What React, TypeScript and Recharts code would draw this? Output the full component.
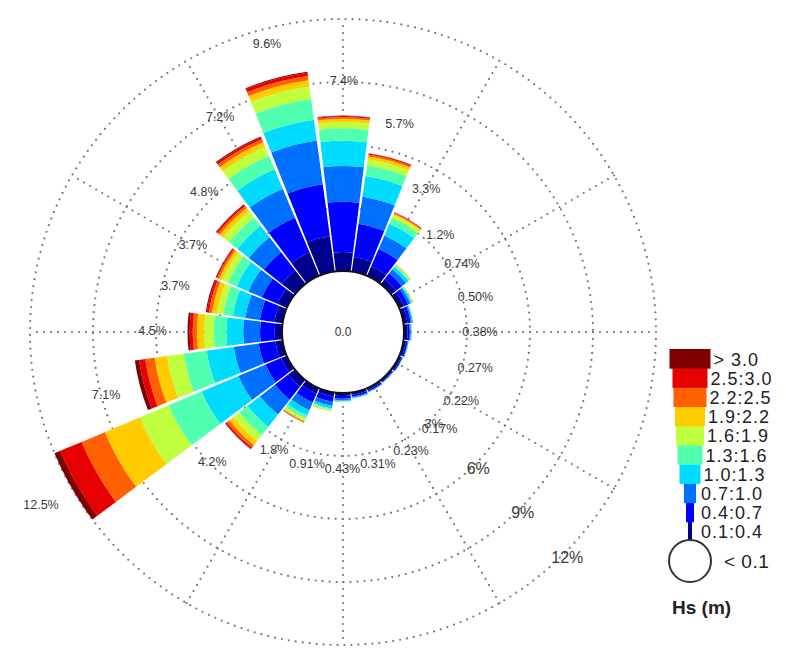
import { RadialBarChart, RadialBar, PolarAngleAxis, PolarRadiusAxis, PolarGrid, LabelList } from 'recharts';

// wave directions (deg from north, clockwise) and the % label printed at each one
const directions = [0, 15, 30, 45, 60, 75, 90, 105, 120, 135, 150, 165, 180, 195, 210, 225, 240, 255, 270, 285, 300, 315, 330, 345];
const dirLabels = ['7.4%', '5.7%', '3.3%', '1.2%', '0.74%', '0.50%', '0.38%', '0.27%', '0.22%', '0.17%', '0.23%', '0.31%', '0.43%', '0.91%', '1.8%', '4.2%', '12.5%', '7.1%', '4.5%', '3.7%', '3.7%', '4.8%', '7.2%', '9.6%'];

// frequency (%) per Hs class, one value per direction
const hs01_04 = [0.9, 0.7, 0.5, 0.3, 0.25, 0.2, 0.17, 0.13, 0.11, 0.09, 0.1, 0.12, 0.14, 0.2, 0.3, 0.4, 0.3, 0.35, 0.35, 0.4, 0.5, 0.8, 1.2, 1.7];
const hs04_07 = [2.4, 1.6, 0.9, 0.35, 0.22, 0.15, 0.11, 0.08, 0.06, 0.045, 0.07, 0.09, 0.13, 0.25, 0.45, 0.8, 0.8, 0.8, 0.7, 0.7, 0.8, 1.1, 1.8, 2.5];
const hs07_10 = [1.7, 1.3, 0.7, 0.25, 0.12, 0.07, 0.05, 0.03, 0.025, 0.02, 0.03, 0.05, 0.08, 0.2, 0.4, 0.9, 1.4, 1.2, 0.8, 0.7, 0.7, 0.9, 1.5, 2.1];
const hs10_13 = [1.2, 1.0, 0.6, 0.15, 0.07, 0.04, 0.025, 0.015, 0.01, 0.01, 0.015, 0.025, 0.04, 0.12, 0.28, 0.75, 1.9, 1.3, 0.8, 0.6, 0.6, 0.7, 1.0, 1.0];
const hs13_16 = [0.6, 0.5, 0.3, 0.08, 0.04, 0.02, 0.015, 0.01, 0.01, 0.005, 0.01, 0.015, 0.02, 0.07, 0.16, 0.5, 1.7, 1.1, 0.6, 0.45, 0.45, 0.5, 0.7, 1.0];
const hs16_19 = [0.3, 0.3, 0.15, 0.04, 0.02, 0.01, 0.01, 0.005, 0.005, 0, 0.005, 0.01, 0.01, 0.04, 0.1, 0.35, 1.5, 0.8, 0.45, 0.3, 0.3, 0.35, 0.45, 0.6];
const hs19_22 = [0.15, 0.15, 0.07, 0.02, 0.01, 0.01, 0.005, 0, 0, 0, 0, 0, 0.005, 0.02, 0.06, 0.25, 1.8, 0.6, 0.35, 0.25, 0.17, 0.22, 0.25, 0.3];
const hs22_25 = [0.08, 0.08, 0.04, 0.01, 0.01, 0, 0.005, 0, 0, 0, 0, 0, 0.005, 0.01, 0.03, 0.15, 1.2, 0.45, 0.2, 0.15, 0.1, 0.12, 0.15, 0.2];
const hs25_30 = [0.05, 0.05, 0.03, 0, 0, 0, 0, 0, 0, 0, 0, 0, 0, 0, 0.015, 0.07, 1.1, 0.3, 0.15, 0.1, 0.06, 0.08, 0.1, 0.15];
const hs30 = [0.02, 0.02, 0.01, 0, 0, 0, 0, 0, 0, 0, 0, 0, 0, 0, 0.005, 0.03, 0.8, 0.2, 0.1, 0.05, 0.02, 0.03, 0.05, 0.05];

const classNames = ['0.1:0.4', '0.4:0.7', '0.7:1.0', '1.0:1.3', '1.3:1.6', '1.6:1.9', '1.9:2.2', '2.2:2.5', '2.5:3.0', '> 3.0'];
const classColors = ['#00008f', '#0000ff', '#0070ff', '#00dcff', '#50ffb0', '#bfff40', '#ffcc00', '#ff6000', '#e60000', '#800000'];
const legendWidths = [4, 8, 12, 21, 25, 28, 30, 33, 35, 41];
const gridTicks = [3, 6, 9, 12];
const calmLabel = '0.0';

const classSeries = [hs01_04, hs04_07, hs07_10, hs10_13, hs13_16, hs16_19, hs19_22, hs22_25, hs25_30, hs30];

const data = directions.map((d, i) => {
  const row: any = { dir: d, label: dirLabels[i] };
  classSeries.forEach((s, k) => { row['c' + k] = s[i]; });
  return row;
});

const W = 778;
const H = 645;
const CX = 335;
const CY = 324;
const INNER = 61;
const OUTER = 313;

const DirLabel = (props: any) => {
  const { viewBox, value } = props;
  if (!viewBox || viewBox.outerRadius == null) return null;
  const { cx, cy, outerRadius, startAngle, endAngle } = viewBox;
  const mid = (startAngle + endAngle) / 2;
  const r = Math.max(outerRadius + 35, 137);
  const rad = (-mid * Math.PI) / 180;
  return (
    <text x={cx + r * Math.cos(rad)} y={cy + r * Math.sin(rad)} textAnchor="middle" dominantBaseline="central"
      fontSize={12.5} fill="#3a3a3a" fontFamily="Liberation Sans, Arial, sans-serif">{value}</text>
  );
};

const RadiusTick = (props: any) => {
  const { x, y, payload } = props;
  const small = payload.value < 6;
  return (
    <text x={x + 3} y={y + 4} textAnchor="middle" dominantBaseline="central" fontSize={small ? 13 : 16} fill="#3a3a3a"
      fontFamily="Liberation Sans, Arial, sans-serif">{payload.value + '%'}</text>
  );
};

export default function App() {
  const rowH = 19.2;
  const legTop = 341;
  const legX = 682;
  return (
    <div style={{ position: 'relative', width: W, height: H, fontFamily: 'Liberation Sans, Arial, sans-serif' }}>
      <RadialBarChart width={W} height={H} data={data} cx={CX} cy={CY} innerRadius={INNER} outerRadius={OUTER}
        startAngle={82.5} endAngle={-277.5} layout="centric" barCategoryGap="2%" margin={{ top: 0, right: 0, bottom: 0, left: 0 }}>
        <PolarGrid gridType="circle" polarAngles={[0, 30, 60, 90, 120, 150, 180, 210, 240, 270, 300, 330]}
          stroke="#777" strokeWidth={2.2} strokeDasharray="0 7" strokeLinecap="round" />
        <PolarAngleAxis dataKey="dir" type="category" tick={false} axisLine={false} tickLine={false} />
        <PolarRadiusAxis type="number" angle={-45} domain={[0, 12]} ticks={gridTicks} allowDataOverflow
          axisLine={false} tickLine={false} tick={<RadiusTick />} />
        {classSeries.map((_, k) => (
          <RadialBar key={k} dataKey={'c' + k} stackId="hs" fill={classColors[k]} isAnimationActive={false}>
            {k === classSeries.length - 1 ? <LabelList dataKey="label" content={<DirLabel />} /> : null}
          </RadialBar>
        ))}
      </RadialBarChart>
      <svg width={W} height={H} style={{ position: 'absolute', left: 0, top: 0, pointerEvents: 'none' }}>
        <circle cx={CX} cy={CY} r={INNER} fill="#fff" stroke="#111" strokeWidth={2} />
        <text x={CX} y={CY} textAnchor="middle" dominantBaseline="central" fontSize={12} fill="#333">{calmLabel}</text>
        {classNames.map((name, k) => {
          const row = classNames.length - 1 - k;
          const w = legendWidths[k];
          const y = legTop + row * rowH;
          return (
            <g key={name}>
              <rect x={legX - w / 2} y={y} width={w} height={rowH + 0.5} fill={classColors[k]} />
              <text x={legX + Math.max(w / 2, 8) + 3} y={y + rowH / 2 + 1} dominantBaseline="central" fontSize={18}
                fill="#222" letterSpacing={1}>{name}</text>
            </g>
          );
        })}
        <circle cx={legX} cy={legTop + 10 * rowH + 20} r={21} fill="#fff" stroke="#333" strokeWidth={2} />
        <text x={legX + 34} y={legTop + 10 * rowH + 20} dominantBaseline="central" fontSize={19} fill="#222" letterSpacing={0.5}>{'< 0.1'}</text>
        <text x={legX - 18} y={legTop + 10 * rowH + 66} dominantBaseline="central" fontSize={19} fontWeight="bold" fill="#222">Hs (m)</text>
      </svg>
    </div>
  );
}
